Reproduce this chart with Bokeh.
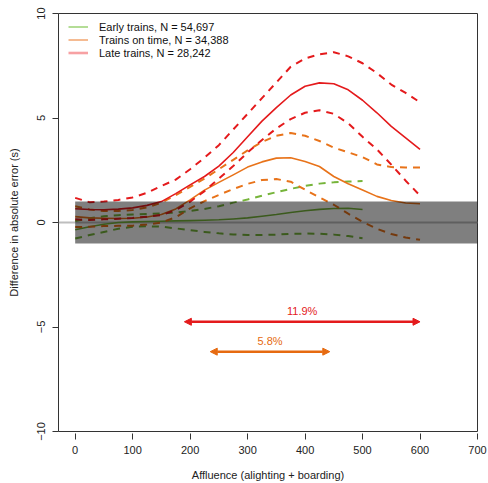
from bokeh.plotting import figure
from bokeh.models import Range1d, Span, Legend, LegendItem, Arrow, NormalHead, FixedTicker
from bokeh.core.properties import value
from bokeh.embed import file_html
from bokeh.resources import INLINE

FONT = "Liberation Sans"
NAN = float("nan")

# ---- data ----
x_full = [0, 25, 50, 75, 100, 125, 150, 175, 200, 225, 250, 275, 300, 325, 350,
          375, 400, 425, 450, 475, 500, 525, 550, 575, 600]
late_mean = [0.66, 0.62, 0.61, 0.64, 0.70, 0.82, 1.00, 1.38, 1.80, 2.20, 2.70, 3.35, 4.10,
             4.85, 5.50, 6.10, 6.52, 6.68, 6.64, 6.35, 5.85, 5.25, 4.60, 4.05, 3.50]
late_upper = [1.18, 0.97, 1.00, 1.08, 1.20, 1.42, 1.75, 2.05, 2.55, 3.10, 3.70, 4.45, 5.20,
              5.95, 6.70, 7.45, 7.85, 8.05, 8.15, 7.95, 7.62, 7.15, 6.60, 6.20, 5.75]
late_lower = [0.15, 0.12, 0.15, 0.18, 0.22, 0.28, 0.35, 0.60, 1.00, 1.50, 2.10, 2.70, 3.35,
              3.95, 4.50, 4.95, 5.25, 5.37, 5.20, 4.75, 4.10, 3.50, 2.77, 2.00, 1.29]
ontime_mean = [0.28, 0.22, 0.20, 0.19, 0.20, 0.26, 0.38, 0.65, 1.08, 1.55, 1.92, 2.28, 2.65,
               2.90, 3.08, 3.10, 2.92, 2.68, 2.20, 1.85, 1.55, 1.25, 1.05, 0.93, 0.90]
ontime_upper = [0.78, 0.62, 0.55, 0.55, 0.60, 0.72, 0.95, 1.30, 1.70, 2.10, 2.55, 3.00, 3.45,
                3.85, 4.15, 4.28, 4.15, 3.90, 3.58, 3.36, 3.13, 2.78, 2.65, 2.63, 2.63]
ontime_lower = [-0.22, -0.20, -0.17, -0.16, -0.15, -0.10, 0.00, 0.25, 0.68, 1.02, 1.32, 1.60,
                1.85, 2.03, 2.08, 1.95, 1.57, 1.20, 0.85, 0.42, 0.03, -0.30, -0.55, -0.72, -0.83]
x_early = [0, 25, 50, 75, 100, 125, 150, 175, 200, 225, 250, 275, 300, 325, 350,
           375, 400, 425, 450, 475, 500]
early_mean = [-0.35, -0.20, -0.08, 0.00, 0.03, 0.05, 0.06, 0.08, 0.09, 0.11, 0.13, 0.17, 0.22,
              0.30, 0.38, 0.48, 0.56, 0.63, 0.67, 0.68, 0.62]
early_upper = [0.07, 0.20, 0.30, 0.35, 0.38, 0.41, 0.44, 0.48, 0.55, 0.65, 0.78, 0.95, 1.10,
               1.28, 1.45, 1.61, 1.75, 1.86, 1.92, 1.96, 1.98]
early_lower = [-0.77, -0.60, -0.45, -0.30, -0.20, -0.18, -0.20, -0.28, -0.37, -0.45, -0.52,
               -0.57, -0.60, -0.60, -0.58, -0.54, -0.53, -0.54, -0.58, -0.65, -0.75]

band_start = 0
band_low, band_high = -1, 1

arrow_x0 = [190, 235]
arrow_x1 = [600, 443]
arrow_y = [-4.75, -6.18]
arrow_labels = ["11.9%", "5.8%"]
arrow_label_y = [-4.25, -5.69]

x_ticks = [0, 100, 200, 300, 400, 500, 600, 700]
y_ticks = [-10, -5, 0, 5, 10]

legend_labels = ["Early trains, N = 54,697", "Trains on time, N = 34,388", "Late trains, N = 28,242"]

# ---- styles ----
GREEN = "#76B43A"
ORANGE = "#E8731A"
RED = "#E41A1C"
LEG_COLORS = ["#8CCB5E", "#F2A46E", "#F7A1A3"]
LEG_WIDTHS = [1.3, 1.5, 2.6]
ARROW_COLORS = ["#E41A1C", "#E66A10"]

p = figure(width=488, height=483, x_range=Range1d(-29, 700), y_range=Range1d(-10, 10),
           output_backend="svg", toolbar_location=None,
           min_border_left=58, min_border_right=11, min_border_top=13, min_border_bottom=52)
p.grid.visible = False
p.outline_line_color = "#333333"
p.outline_line_width = 1
p.outline_line_alpha = 1
p.background_fill_color = "white"
p.border_fill_color = "white"

zero = Span(location=0, dimension="width", line_color="#BEBEBE", line_width=2, level="underlay")
p.add_layout(zero)

series = [
    (x_early, early_mean, early_upper, early_lower, GREEN),
    (x_full, ontime_mean, ontime_upper, ontime_lower, ORANGE),
    (x_full, late_mean, late_upper, late_lower, RED),
]
for xs, m, u, l, c in series:
    p.line(xs, u, line_color=c, line_width=2, line_dash="7 6", line_join="round")
    p.line(xs, l, line_color=c, line_width=2, line_dash="7 6", line_join="round")
    p.line(xs, m, line_color=c, line_width=1.6, line_join="round")

# grey band on top (semi-transparent)
p.quad(left=[band_start], right=[p.x_range.end], bottom=[band_low], top=[band_high],
       fill_color="black", fill_alpha=0.5, line_color=None)

# arrows with labels
for i in range(len(arrow_x0)):
    c = ARROW_COLORS[i]
    p.add_layout(Arrow(x_start=arrow_x0[i], x_end=arrow_x1[i], y_start=arrow_y[i], y_end=arrow_y[i],
                       line_color=c, line_width=2.5,
                       start=NormalHead(size=7, fill_color=c, line_color=c, line_width=1),
                       end=NormalHead(size=7, fill_color=c, line_color=c, line_width=1)))
    p.text(x=[(arrow_x0[i] + arrow_x1[i]) / 2], y=[arrow_label_y[i]], text=[arrow_labels[i]],
           text_color=c, text_font=value(FONT), text_font_size="11px",
           text_align="center", text_baseline="middle")

# legend (lighter swatches; renderers hold no visible data)
leg_renderers = []
for c, w in zip(LEG_COLORS, LEG_WIDTHS):
    leg_renderers.append(p.line([NAN], [NAN], line_color=c, line_width=w))
legend = Legend(items=[LegendItem(label=lab, renderers=[r]) for lab, r in zip(legend_labels, leg_renderers)],
                location=(10, 372), margin=0, padding=0, spacing=-2,
                label_height=13, glyph_height=13, glyph_width=20, label_standoff=11,
                label_text_font=FONT, label_text_font_size="11px", label_text_color="#111111",
                background_fill_alpha=0, border_line_color=None)
p.add_layout(legend)

# axes
p.xaxis.ticker = FixedTicker(ticks=x_ticks)
p.yaxis.ticker = FixedTicker(ticks=y_ticks)
for ax in (p.xaxis[0], p.yaxis[0]):
    ax.axis_line_color = None
    ax.major_tick_line_color = "#333333"
    ax.minor_tick_line_color = None
    ax.major_label_text_font = FONT
    ax.major_label_text_font_size = "11px"
    ax.major_label_text_color = "#222222"
    ax.axis_label_text_font = FONT
    ax.axis_label_text_font_size = "11px"
    ax.axis_label_text_font_style = "normal"
    ax.axis_label_text_color = "#222222"

p.xaxis.axis_label = "Affluence (alighting + boarding)"
p.xaxis.major_tick_in = -2
p.xaxis.major_tick_out = 8
p.xaxis.major_label_standoff = 6
p.xaxis.axis_label_standoff = 12

p.yaxis.axis_label = "Difference in absolute error (s)"
p.yaxis.major_label_orientation = "vertical"
p.yaxis.major_tick_in = 0
p.yaxis.major_tick_out = 6
p.yaxis.major_label_standoff = 8
p.yaxis.axis_label_standoff = 14

open("out.html", "w").write(file_html(p, INLINE))
